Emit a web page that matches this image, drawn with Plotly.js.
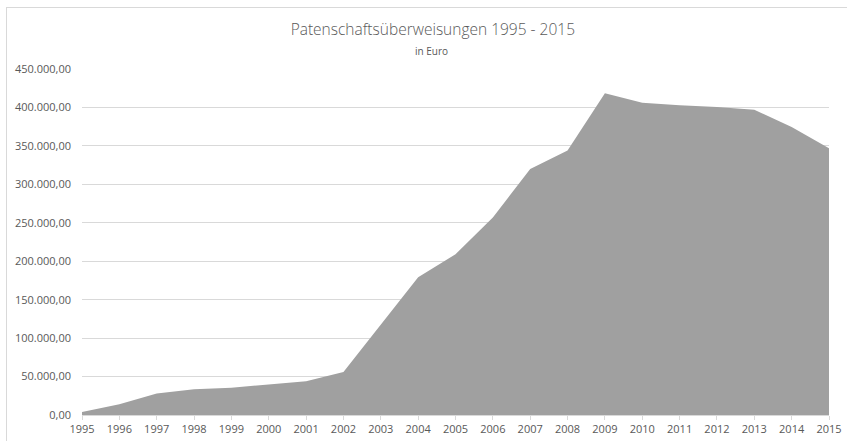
<!DOCTYPE html>
<html>
<head>
<meta charset="utf-8">
<script src="https://cdn.plot.ly/plotly-3.0.1.min.js"></script>
<style>
  html, body { margin: 0; padding: 0; background: #ffffff; }
  #wrap { position: relative; width: 847px; height: 441px; overflow: hidden; }
  #chart { width: 847px; height: 441px; }
  #frame { position: absolute; left: 6px; top: 7px; width: 900px; height: 500px;
           border-top: 1px solid #d9d9d9; border-left: 1px solid #d9d9d9; pointer-events: none; }
</style>
</head>
<body>
<div id="wrap">
  <div id="chart"></div>
  <div id="frame"></div>
</div>
<script>
const years = [1995, 1996, 1997, 1998, 1999, 2000, 2001, 2002, 2003, 2004, 2005,
               2006, 2007, 2008, 2009, 2010, 2011, 2012, 2013, 2014, 2015];
const amounts = [4000, 14000, 28000, 33500, 35500, 39500, 44000, 56000, 117000, 179000, 209000,
                 257000, 320000, 344000, 418500, 406000, 403000, 400500, 397000, 374500, 347000];
const chartTitle = "Patenschaftsüberweisungen 1995 - 2015";
const chartSubtitle = "in Euro";

const trace = {
  x: years,
  y: amounts,
  type: "scatter",
  mode: "lines",
  fill: "tozeroy",
  fillcolor: "#a0a0a0",
  line: { width: 0, color: "#a0a0a0" },
  hoverinfo: "x+y"
};

const layout = {
  width: 847,
  height: 441,
  margin: { l: 82, r: 18, t: 69, b: 26 },
  paper_bgcolor: "#ffffff",
  plot_bgcolor: "#ffffff",
  separators: ",.",
  showlegend: false,
  font: { family: "Open Sans, Liberation Sans, sans-serif", color: "#595959", size: 11 },
  title: {
    text: chartTitle,
    font: { family: "Open Sans, Liberation Sans, sans-serif", size: 15.5, color: "#595959", weight: 300 },
    x: 0.511, xanchor: "center",
    y: 1 - 30 / 441, yanchor: "middle",
    xref: "container", yref: "container"
  },
  annotations: [{
    text: chartSubtitle,
    xref: "paper", yref: "paper",
    x: (431 - 82) / 747, y: (415 - 51) / 346, xanchor: "center", yanchor: "middle",
    showarrow: false,
    font: { family: "Open Sans, Liberation Sans, sans-serif", size: 10, color: "#595959" }
  }],
  xaxis: {
    type: "linear",
    range: [1995, 2015],
    tickmode: "array",
    tickvals: years,
    ticktext: years.map(String),
    showgrid: false,
    zeroline: false,
    showline: true,
    linecolor: "#d9d9d9",
    linewidth: 1,
    ticks: "outside",
    ticklen: 4,
    tickcolor: "#d9d9d9",
    tickfont: { size: 11, color: "#595959" },
    fixedrange: true
  },
  yaxis: {
    range: [0, 450000],
    tick0: 0,
    dtick: 50000,
    tickformat: ",.2f",
    showgrid: true,
    gridcolor: "#d9d9d9",
    gridwidth: 1,
    zeroline: false,
    showline: false,
    ticks: "",
    ticklabelstandoff: 10,
    tickfont: { size: 11, color: "#595959" },
    fixedrange: true
  }
};

Plotly.newPlot("chart", [trace], layout, { displayModeBar: false, staticPlot: true });
</script>
</body>
</html>
